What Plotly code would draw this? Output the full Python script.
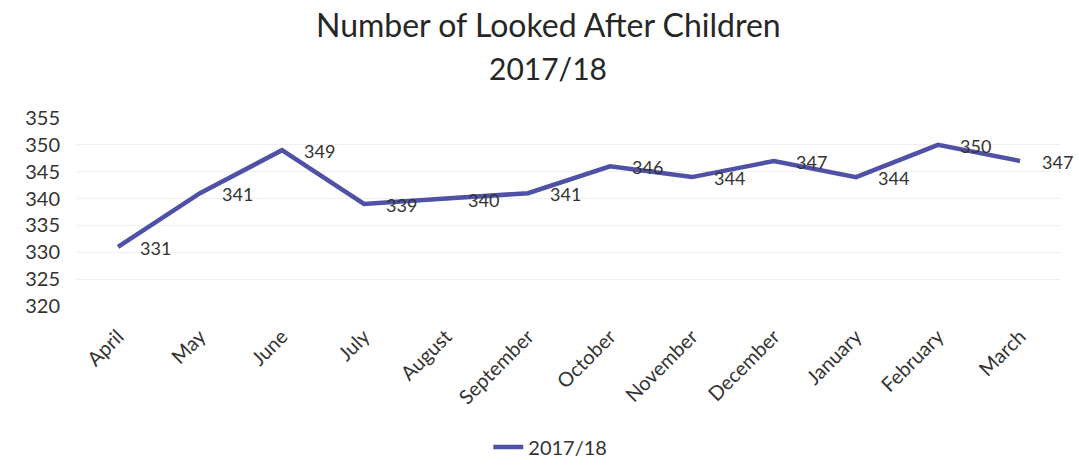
import plotly.graph_objects as go

months = ["April", "May", "June", "July", "August", "September", "October",
          "November", "December", "January", "February", "March"]
values = [331, 341, 349, 339, 340, 341, 346, 344, 347, 344, 350, 347]
series_name = "2017/18"
y_ticks = [320, 325, 330, 335, 340, 345, 350, 355]
title_lines = ["Number of Looked After Children", "2017/18"]

FONT = "Lato, 'Open Sans', sans-serif"
LINE = "#4F51A6"

L, R, T, B = 77, 18, 118, 170
PW = 1079 - L - R
PH = 476 - T - B
TITLE_X = (548 - L) / PW

fig = go.Figure()
fig.add_trace(go.Scatter(
    x=months, y=values, mode="lines", name=series_name,
    line=dict(color=LINE, width=4.5),
))

for m, v in zip(months, values):
    fig.add_annotation(x=m, y=v, text=str(v), showarrow=False,
                       xanchor="left", yanchor="middle", xshift=20, yshift=-1,
                       font=dict(family=FONT, size=18, color="#333333"))

fig.add_annotation(x=TITLE_X, xref="paper", y=1 + (T - 25) / PH, yref="paper",
                   text=title_lines[0], showarrow=False, xanchor="center", yanchor="middle",
                   font=dict(family=FONT, size=32, color="#262626"))
fig.add_annotation(x=TITLE_X, xref="paper", y=1 + (T - 68) / PH, yref="paper",
                   text=title_lines[1], showarrow=False, xanchor="center", yanchor="middle",
                   font=dict(family=FONT, size=30, color="#262626"))

fig.update_layout(
    width=1079, height=476,
    margin=dict(l=L, r=R, t=T, b=B, autoexpand=False),
    paper_bgcolor="white", plot_bgcolor="white",
    showlegend=True,
    legend=dict(orientation="h", x=0.51, xanchor="center", xref="container",
                y=1 - 447 / 476, yanchor="middle", yref="container",
                font=dict(family=FONT, size=20, color="#333333")),
    font=dict(family=FONT, color="#333333"),
)
fig.update_xaxes(type="category", range=[-0.5, 11.5], tickangle=-45,
                 showgrid=False, showline=False, ticks="", automargin=False,
                 tickfont=dict(family=FONT, size=20, color="#333333"),
                 ticklabelstandoff=14)
fig.update_yaxes(range=[320, 355], tickvals=y_ticks, showgrid=True, automargin=False,
                 gridcolor="#EFEFEF", gridwidth=1, zeroline=False, showline=False,
                 tickfont=dict(family=FONT, size=20, color="#333333"),
                 ticklabelstandoff=16)

fig.write_html("out.html", config={"displayModeBar": False},
               post_script="document.body.style.margin='0';document.body.style.overflow='hidden';")
